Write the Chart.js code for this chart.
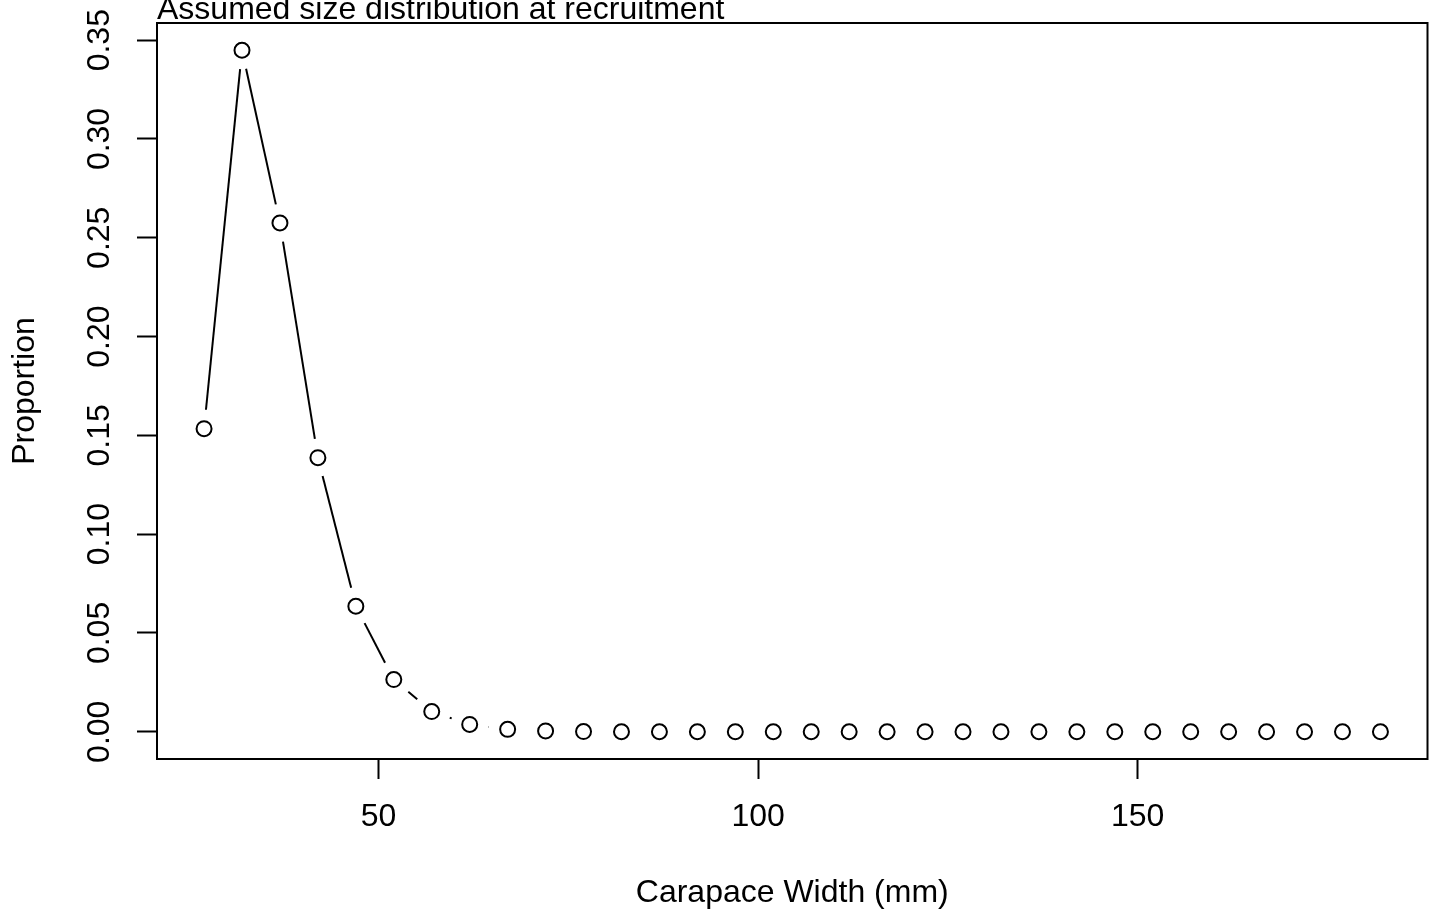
<!DOCTYPE html>
<html>
<head>
<meta charset="utf-8">
<script src="https://cdn.jsdelivr.net/npm/chart.js@4"></script>
<style>
  html, body { margin: 0; padding: 0; background: #fff; }
  #wrap { width: 1437px; height: 920px; }
</style>
</head>
<body>
<div id="wrap"><canvas id="chart1" width="1437" height="920"></canvas></div>
<script>
// carapace width bins (mm)
var widths = [27, 32, 37, 42, 47, 52, 57, 62, 67, 72, 77, 82, 87, 92, 97, 102,
  107, 112, 117, 122, 127, 132, 137, 142, 147, 152, 157, 162, 167, 172, 177, 182];
// proportion recruiting into each bin
var proportion = [0.1534, 0.3449, 0.2575, 0.1387, 0.0635, 0.0264, 0.0102, 0.0037,
  0.0012, 0.0004, 0.0001, 0, 0, 0, 0, 0, 0, 0, 0, 0, 0, 0, 0, 0, 0, 0, 0, 0, 0, 0, 0, 0];
var xTicks = [50, 100, 150];
var yTicks = [0, 0.05, 0.10, 0.15, 0.20, 0.25, 0.30, 0.35];

var titleText = 'Assumed size distribution at recruitment';
var fontFamily = '"Liberation Sans", Arial, sans-serif';

Chart.defaults.font.family = fontFamily;
Chart.defaults.color = '#000';

// R style axis range: data range extended by 4% each side
function extRange(arr) {
  var lo = Math.min.apply(null, arr), hi = Math.max.apply(null, arr);
  var d = (hi - lo) * 0.04;
  return [lo - d, hi + d];
}
var xr = extRange(widths);
var yr = extRange(proportion);

// type = "b": segments with a gap round each point, plus frame and title
var rStyle = {
  id: 'rStyle',
  beforeDatasetsDraw: function (chart) {
    var ctx = chart.ctx;
    var pts = chart.getDatasetMeta(0).data;
    var gap = 19;
    ctx.save();
    ctx.strokeStyle = '#000';
    ctx.lineWidth = 2;
    for (var i = 0; i < pts.length - 1; i++) {
      var a = pts[i], b = pts[i + 1];
      var dx = b.x - a.x, dy = b.y - a.y;
      var len = Math.sqrt(dx * dx + dy * dy);
      if (len <= 2 * gap) continue;
      var ux = dx / len, uy = dy / len;
      ctx.beginPath();
      ctx.moveTo(a.x + ux * gap, a.y + uy * gap);
      ctx.lineTo(b.x - ux * gap, b.y - uy * gap);
      ctx.stroke();
    }
    ctx.restore();
  },
  afterDraw: function (chart) {
    var ctx = chart.ctx, ca = chart.chartArea;
    ctx.save();
    ctx.strokeStyle = '#000';
    ctx.lineWidth = 2;
    ctx.strokeRect(ca.left, ca.top, ca.right - ca.left, ca.bottom - ca.top);
    ctx.fillStyle = '#000';
    ctx.font = '32px ' + fontFamily;
    ctx.textAlign = 'left';
    ctx.textBaseline = 'alphabetic';
    ctx.fillText(titleText, ca.left, 19);
    ctx.restore();
  }
};

var ctx = document.getElementById('chart1').getContext('2d');
var myChart = new Chart(ctx, {
  type: 'scatter',
  data: {
    datasets: [{
      data: widths.map(function (w, i) { return { x: w, y: proportion[i] }; }),
      showLine: false,
      pointStyle: 'circle',
      pointRadius: 7.5,
      pointHoverRadius: 7.5,
      pointBorderWidth: 2,
      pointBorderColor: '#000',
      pointBackgroundColor: 'rgba(0,0,0,0)'
    }]
  },
  options: {
    responsive: false,
    animation: false,
    layout: { padding: { top: 23, right: 9, left: 0, bottom: 0 } },
    plugins: {
      legend: { display: false },
      tooltip: { enabled: false }
    },
    scales: {
      x: {
        type: 'linear',
        min: xr[0],
        max: xr[1],
        afterBuildTicks: function (scale) {
          scale.ticks = xTicks.map(function (v) { return { value: v }; });
        },
        afterFit: function (scale) {
          scale.height = 161;
          scale.paddingLeft = 0;
          scale.paddingRight = 0;
        },
        grid: { drawOnChartArea: false, drawTicks: true, tickLength: 20, tickWidth: 2, tickColor: '#000' },
        border: { display: false },
        ticks: {
          autoSkip: false,
          maxRotation: 0,
          padding: 19,
          font: { size: 32 },
          color: '#000',
          callback: function (v) { return String(v); }
        },
        title: {
          display: true,
          text: 'Carapace Width (mm)',
          font: { size: 32 },
          color: '#000',
          padding: { top: 0, bottom: 8 }
        }
      },
      y: {
        type: 'linear',
        min: yr[0],
        max: yr[1],
        afterBuildTicks: function (scale) {
          scale.ticks = yTicks.map(function (v) { return { value: v }; });
        },
        afterFit: function (scale) {
          scale.width = 157;
          scale.paddingTop = 0;
          scale.paddingBottom = 0;
        },
        grid: { drawOnChartArea: false, drawTicks: true, tickLength: 20, tickWidth: 2, tickColor: '#000' },
        border: { display: false },
        ticks: {
          autoSkip: false,
          minRotation: 90,
          maxRotation: 90,
          crossAlign: 'center',
          padding: 6,
          font: { size: 32 },
          color: '#000',
          callback: function (v) { return v.toFixed(2); }
        },
        title: {
          display: true,
          text: 'Proportion',
          font: { size: 32 },
          color: '#000',
          padding: { top: 6, bottom: 0 }
        }
      }
    }
  },
  plugins: [rStyle]
});
</script>
</body>
</html>
